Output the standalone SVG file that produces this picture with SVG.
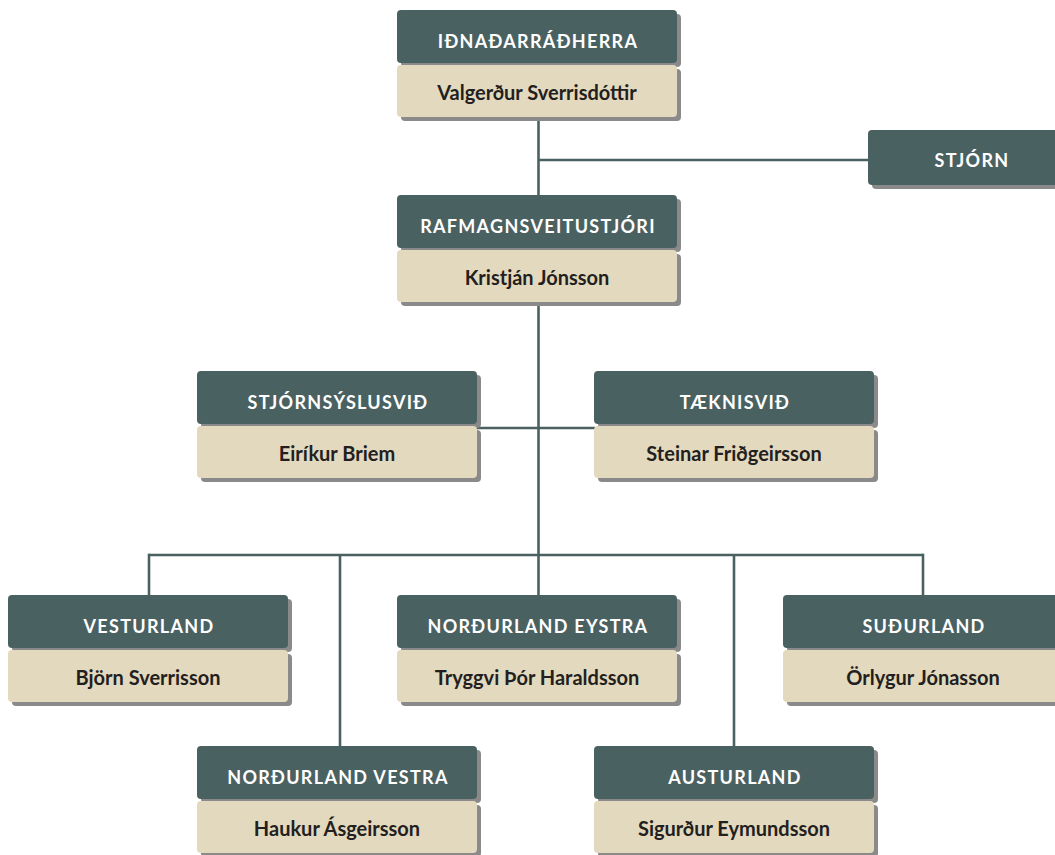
<svg xmlns="http://www.w3.org/2000/svg" width="1055" height="855" viewBox="0 0 1055 855">
<style>
.sh{fill:#8a8a8a}
.hd{fill:#4a6161}
.nm{fill:#e3d9be}
.t{font-family:Lato,"Open Sans","Liberation Sans",sans-serif;font-weight:700;text-anchor:middle}
.tt{fill:#ffffff;font-size:18px;letter-spacing:1.3px}
.tn{fill:#231f20;font-size:20px}
.c{stroke:#4a6161;stroke-width:2.6;fill:none}
</style>
<defs>
<g id="box">
<rect class="sh" x="4" y="4" width="280" height="53" rx="4"/>
<rect class="sh" x="4" y="59" width="280" height="52" rx="4"/>
<rect class="hd" x="0" y="0" width="280" height="53" rx="4"/>
<rect class="nm" x="0" y="55" width="280" height="52" rx="4"/>
</g>
</defs>
<rect width="1055" height="855" fill="#ffffff"/>
<g id="connectors">
<line class="c" x1="538.5" y1="117" x2="538.5" y2="196"/>
<line class="c" x1="538.5" y1="160" x2="869" y2="160"/>
<line class="c" x1="538.5" y1="300" x2="538.5" y2="596"/>
<line class="c" x1="476" y1="428" x2="595" y2="428"/>
<line class="c" x1="149" y1="555" x2="923" y2="555"/>
<line class="c" x1="149" y1="553.7" x2="149" y2="596"/>
<line class="c" x1="340" y1="555" x2="340" y2="747"/>
<line class="c" x1="734" y1="555" x2="734" y2="747"/>
<line class="c" x1="923" y1="553.7" x2="923" y2="596"/>
</g>
<g id="n-idnadarradherra">
<use href="#box" x="397" y="10"/>
<text class="t tt" x="538" y="48">IÐNAÐARRÁÐHERRA</text>
<text class="t tn" x="537" y="100">Valgerður Sverrisdóttir</text>
</g>
<g id="n-stjorn">
<rect class="sh" x="872" y="134" width="220" height="55" rx="4"/>
<rect class="hd" x="868" y="130" width="220" height="55" rx="4"/>
<text class="t tt" x="972" y="167">STJÓRN</text>
</g>
<g id="n-rafmagnsveitustjori">
<use href="#box" x="397" y="195"/>
<text class="t tt" x="538" y="233">RAFMAGNSVEITUSTJÓRI</text>
<text class="t tn" x="537" y="285">Kristján Jónsson</text>
</g>
<g id="n-stjornsyslusvid">
<use href="#box" x="197" y="371"/>
<text class="t tt" x="338" y="409">STJÓRNSÝSLUSVIÐ</text>
<text class="t tn" x="337" y="461">Eiríkur Briem</text>
</g>
<g id="n-taeknisvid">
<use href="#box" x="594" y="371"/>
<text class="t tt" x="735" y="409">TÆKNISVIÐ</text>
<text class="t tn" x="734" y="461">Steinar Friðgeirsson</text>
</g>
<g id="n-vesturland">
<use href="#box" x="8" y="595"/>
<text class="t tt" x="149" y="633">VESTURLAND</text>
<text class="t tn" x="148" y="685">Björn Sverrisson</text>
</g>
<g id="n-nordurland-eystra">
<use href="#box" x="397" y="595"/>
<text class="t tt" x="538" y="633">NORÐURLAND EYSTRA</text>
<text class="t tn" x="537" y="685">Tryggvi Þór Haraldsson</text>
</g>
<g id="n-sudurland">
<use href="#box" x="783" y="595"/>
<text class="t tt" x="924" y="633">SUÐURLAND</text>
<text class="t tn" x="923" y="685">Örlygur Jónasson</text>
</g>
<g id="n-nordurland-vestra">
<use href="#box" x="197" y="746"/>
<text class="t tt" x="338" y="784">NORÐURLAND VESTRA</text>
<text class="t tn" x="337" y="836">Haukur Ásgeirsson</text>
</g>
<g id="n-austurland">
<use href="#box" x="594" y="746"/>
<text class="t tt" x="735" y="784">AUSTURLAND</text>
<text class="t tn" x="734" y="836">Sigurður Eymundsson</text>
</g>
</svg>
